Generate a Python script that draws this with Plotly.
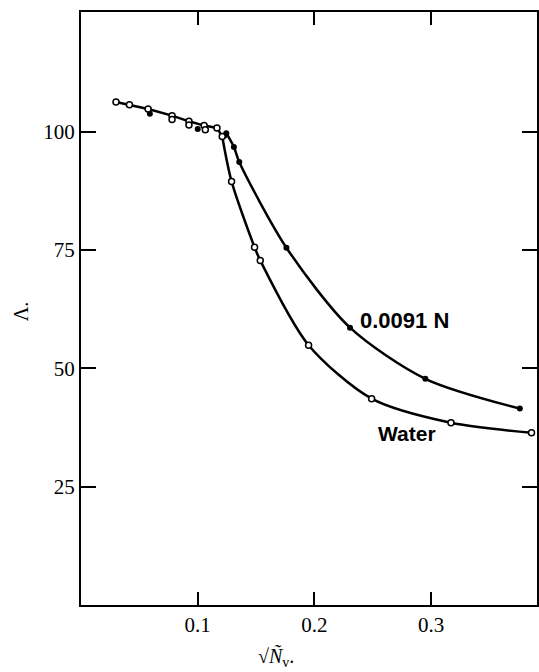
import plotly.graph_objects as go

# Water (open circles)
water_x = [0.030, 0.0415, 0.0575, 0.078, 0.0925, 0.1055, 0.1165, 0.121, 0.129, 0.1487, 0.1536, 0.195, 0.249, 0.317, 0.386]
water_y = [106.3, 105.7, 104.8, 103.4, 102.2, 101.3, 100.8, 99.0, 89.5, 75.6, 72.8, 54.9, 43.6, 38.5, 36.4]
# repeated open-circle readings near the straight part
water_rep_x = [0.078, 0.0925, 0.1065]
water_rep_y = [102.6, 101.4, 100.4]
# 0.0091 N (filled dots)
salt_x = [0.059, 0.100, 0.123, 0.1245, 0.131, 0.1356, 0.176, 0.2305, 0.295, 0.376]
salt_y = [103.8, 100.6, 99.2, 99.7, 96.8, 93.6, 75.5, 58.6, 47.8, 41.5]

x_ticks = [0.1, 0.2, 0.3]
x_ticklabels = ["0.1", "0.2", "0.3"]
y_ticks = [25, 50, 75, 100]
y_ticklabels = ["25", "50", "75", "100"]

KINK_W = 7   # index in water arrays where the steep fall begins
KINK_S = 3   # index in salt arrays where the steep fall begins

fig = go.Figure()
fig.add_trace(go.Scatter(x=water_x[:KINK_W + 1], y=water_y[:KINK_W + 1], mode="lines",
                         line=dict(color="black", width=2.5)))
fig.add_trace(go.Scatter(x=water_x[KINK_W:], y=water_y[KINK_W:], mode="lines",
                         line=dict(color="black", width=2.5, shape="spline", smoothing=0.8)))
fig.add_trace(go.Scatter(x=salt_x[KINK_S:], y=salt_y[KINK_S:], mode="lines",
                         line=dict(color="black", width=2.5, shape="spline", smoothing=0.8)))
fig.add_trace(go.Scatter(x=salt_x, y=salt_y, mode="markers",
                         marker=dict(symbol="circle", size=6, color="black")))
fig.add_trace(go.Scatter(x=water_x + water_rep_x, y=water_y + water_rep_y, mode="markers",
                         marker=dict(symbol="circle", size=6, color="white",
                                     line=dict(color="black", width=1.5))))

XR = [0, 0.3907]
YR = [0, 125.3]
serif = "Liberation Serif"

fig.update_layout(
    width=539, height=672,
    margin=dict(l=81, r=0, t=12, b=67),
    paper_bgcolor="white", plot_bgcolor="white",
    showlegend=False,
    xaxis=dict(range=XR, tickvals=x_ticks, ticktext=x_ticklabels, ticks="inside",
               ticklen=13, tickwidth=2, tickcolor="black", showline=True, linewidth=2,
               linecolor="black", showgrid=False, zeroline=False, mirror="ticks",
               tickfont=dict(family=serif, size=21, color="black")),
    yaxis=dict(range=YR, tickvals=y_ticks, ticktext=y_ticklabels, ticks="inside",
               ticklen=15, tickwidth=2, tickcolor="black", showline=True, linewidth=2,
               linecolor="black", showgrid=False, zeroline=False, mirror="ticks",
               tickfont=dict(family=serif, size=21, color="black")),
    annotations=[
        dict(x=(406 - 81) / 458, y=(605 - 320) / 593, xref="paper", yref="paper",
             text="<b>0.0091 N</b>", showarrow=False, xanchor="center", yanchor="middle",
             font=dict(family="Liberation Sans", size=22, color="black")),
        dict(x=(408 - 81) / 458, y=(605 - 434) / 593, xref="paper", yref="paper",
             text="<b>Water</b>", showarrow=False, xanchor="center", yanchor="middle",
             font=dict(family="Liberation Sans", size=21, color="black")),
        dict(x=(21 - 81) / 458, y=(605 - 311) / 593, xref="paper", yref="paper", text="Λ.",
             textangle=-90, showarrow=False, xanchor="center", yanchor="middle",
             font=dict(family=serif, size=20, color="black")),
        dict(x=(277 - 81) / 458, y=(605 - 657) / 593, xref="paper", yref="paper",
             text="√<i>Ñ</i><sub>v</sub>.", showarrow=False, xanchor="center", yanchor="middle",
             font=dict(family=serif, size=20, color="black")),
    ],
)

fig.write_html("out.html")
